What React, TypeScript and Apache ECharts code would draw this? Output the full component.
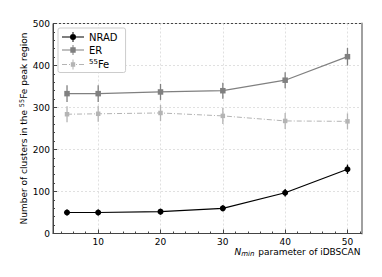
import React, { useEffect, useRef } from "react";
import * as echarts from "echarts";

const nmin = [5, 10, 20, 30, 40, 50];
const nradValues = [50, 50, 52, 60, 97, 153];
const nradErrors = [7, 7, 7, 7, 9, 11];
const erValues = [333, 333, 337, 340, 365, 421];
const erErrors = [20, 20, 19, 19, 19, 21];
const feValues = [284, 285, 287, 280, 268, 267];
const feErrors = [19, 19, 19, 19, 19, 19];
const xMajorTicks = [10, 20, 30, 40, 50];
const xMinorTicks = [4, 6, 8, 12, 14, 16, 18, 22, 24, 26, 28, 32, 34, 36, 38, 42, 44, 46, 48, 52];

const FONT = "DejaVu Sans";
const C_NRAD = "#000000";
const C_ER = "#808080";
const C_FE = "#b4b4b4";

function errSeries(name: string, values: number[], errors: number[], color: string) {
  return {
    type: "custom",
    name,
    xAxisIndex: 0,
    yAxisIndex: 0,
    silent: true,
    z: 1,
    data: nmin.map((x, i) => [x, values[i] - errors[i], values[i] + errors[i]]),
    encode: { x: 0, y: [1, 2] },
    renderItem: (params: any, api: any) => {
      const lo = api.coord([api.value(0), api.value(1)]);
      const hi = api.coord([api.value(0), api.value(2)]);
      return {
        type: "line",
        shape: { x1: lo[0], y1: lo[1], x2: hi[0], y2: hi[1] },
        style: { stroke: color, lineWidth: 1.3 },
      };
    },
  };
}

const iconNrad =
  "path://M0,4.5H22V5.5H0Z M10.5,0H11.5V10H10.5Z M14,5A3,3 0 1 1 8,5A3,3 0 1 1 14,5Z";
const iconEr = "path://M0,4.5H22V5.5H0Z M10.5,0H11.5V10H10.5Z M8.3,2.3H13.7V7.7H8.3Z";
const iconFe =
  "path://M0,4.5H5V5.5H0Z M7,4.5H8V5.5H7Z M10,4.5H12V5.5H10Z M14,4.5H15V5.5H14Z M17,4.5H22V5.5H17Z M10.5,0H11.5V10H10.5Z M8.8,2.8H13.2V7.2H8.8Z";

export default function App() {
  const ref = useRef<HTMLDivElement>(null);
  useEffect(() => {
    if (!ref.current) return;
    const chart = echarts.init(ref.current, undefined, { renderer: "svg" });
    const axisText = { fontFamily: FONT, fontSize: 9, color: "#000" };
    chart.setOption({
      animation: false,
      backgroundColor: "#fff",
      textStyle: { fontFamily: FONT },
      grid: {
        left: 53,
        top: 23.5,
        right: 20.5,
        bottom: 43.5,
        show: true,
        borderColor: "#444",
        borderWidth: 1,
        backgroundColor: "transparent",
      },
      legend: {
        orient: "vertical",
        left: 58,
        top: 28,
        padding: [4, 8, 3, 4],
        itemGap: 3,
        itemWidth: 22,
        itemHeight: 10,
        backgroundColor: "#fff",
        borderColor: "#cccccc",
        borderWidth: 1,
        borderRadius: 2,
        textStyle: {
          fontFamily: FONT,
          fontSize: 10,
          color: "#000",
          rich: { sup: { fontSize: 7, verticalAlign: "bottom", padding: [0, 0, 6, 0], fontFamily: FONT } },
        },
        formatter: (n: string) => (n === "55Fe" ? "{sup|55}Fe" : n),
        data: [
          { name: "NRAD", icon: iconNrad },
          { name: "ER", icon: iconEr },
          { name: "55Fe", icon: iconFe },
        ],
      },
      xAxis: [
        {
          type: "value",
          min: 2.75,
          max: 52.25,
          position: "bottom",
          axisLine: { show: true, lineStyle: { color: "#444", width: 1 } },
          axisTick: { show: true, inside: true, length: 4, customValues: xMajorTicks, lineStyle: { color: "#444" } },
          axisLabel: { show: true, customValues: xMajorTicks, margin: 4, ...axisText },
          splitLine: { show: true, lineStyle: { color: "#e0e0e0", type: [2, 2], width: 1 } },
          name: "{i|N}{sub|min} parameter of iDBSCAN",
          nameLocation: "end",
          nameGap: -1,
          nameTextStyle: {
            align: "right",
            verticalAlign: "top",
            padding: [12, 0, 0, 0],
            fontFamily: FONT,
            fontSize: 9,
            color: "#000",
            rich: {
              i: { fontStyle: "italic", fontSize: 9, fontFamily: FONT, color: "#000" },
              sub: { fontStyle: "italic", fontSize: 7, fontFamily: FONT, verticalAlign: "top", padding: [5, 1, 0, 0], color: "#000" },
            },
          },
        },
        {
          type: "value",
          min: 2.75,
          max: 52.25,
          position: "bottom",
          axisLine: { show: false },
          axisTick: { show: true, inside: true, length: 2, customValues: xMinorTicks, lineStyle: { color: "#444" } },
          axisLabel: { show: false },
          splitLine: { show: false },
        },
      ],
      yAxis: [
        {
          type: "value",
          min: 0,
          max: 500,
          interval: 100,
          axisLine: { show: true, lineStyle: { color: "#444", width: 1 } },
          axisTick: { show: true, inside: true, length: 4, lineStyle: { color: "#444" } },
          minorTick: { show: true, splitNumber: 5, length: 2, lineStyle: { color: "#444" } },
          axisLabel: { show: true, margin: 3, ...axisText },
          splitLine: { show: true, lineStyle: { color: "#e0e0e0", type: [2, 2], width: 1 } },
          name: "Number of clusters in the {sup|55}Fe peak region",
          nameLocation: "middle",
          nameMoveOverlap: false,
          nameGap: 23,
          nameTextStyle: {
            fontFamily: FONT,
            fontSize: 9,
            color: "#000",
            rich: { sup: { fontSize: 6.5, fontFamily: FONT, verticalAlign: "bottom", padding: [0, 0, 5, 0], color: "#000" } },
          },
        },
        {
          type: "value",
          min: 0,
          max: 500,
          position: "right",
          axisLine: { show: true, lineStyle: { color: "#a0a0a0", width: 2 } },
          axisTick: { show: false },
          axisLabel: { show: false },
          splitLine: { show: false },
        },
      ],
      series: [
        errSeries("NRAD_err", nradValues, nradErrors, C_NRAD),
        errSeries("ER_err", erValues, erErrors, C_ER),
        errSeries("Fe_err", feValues, feErrors, C_FE),
        {
          type: "line",
          name: "55Fe",
          data: nmin.map((x, i) => [x, feValues[i]]),
          symbol: "rect",
          symbolSize: 4.5,
          showAllSymbol: true,
          itemStyle: { color: C_FE },
          lineStyle: { color: C_FE, width: 1, type: [5, 2, 1, 2] },
          z: 2,
        },
        {
          type: "line",
          name: "ER",
          data: nmin.map((x, i) => [x, erValues[i]]),
          symbol: "rect",
          symbolSize: 5.5,
          showAllSymbol: true,
          itemStyle: { color: C_ER },
          lineStyle: { color: C_ER, width: 1.2 },
          z: 3,
        },
        {
          type: "line",
          name: "NRAD",
          data: nmin.map((x, i) => [x, nradValues[i]]),
          symbol: "circle",
          symbolSize: 6,
          showAllSymbol: true,
          itemStyle: { color: C_NRAD },
          lineStyle: { color: C_NRAD, width: 1.2 },
          z: 4,
        },
      ],
    });
    return () => chart.dispose();
  }, []);
  return (
    <div
      ref={ref}
      style={{ position: "fixed", left: 0, top: 0, width: 382, height: 277 }}
    />
  );
}
